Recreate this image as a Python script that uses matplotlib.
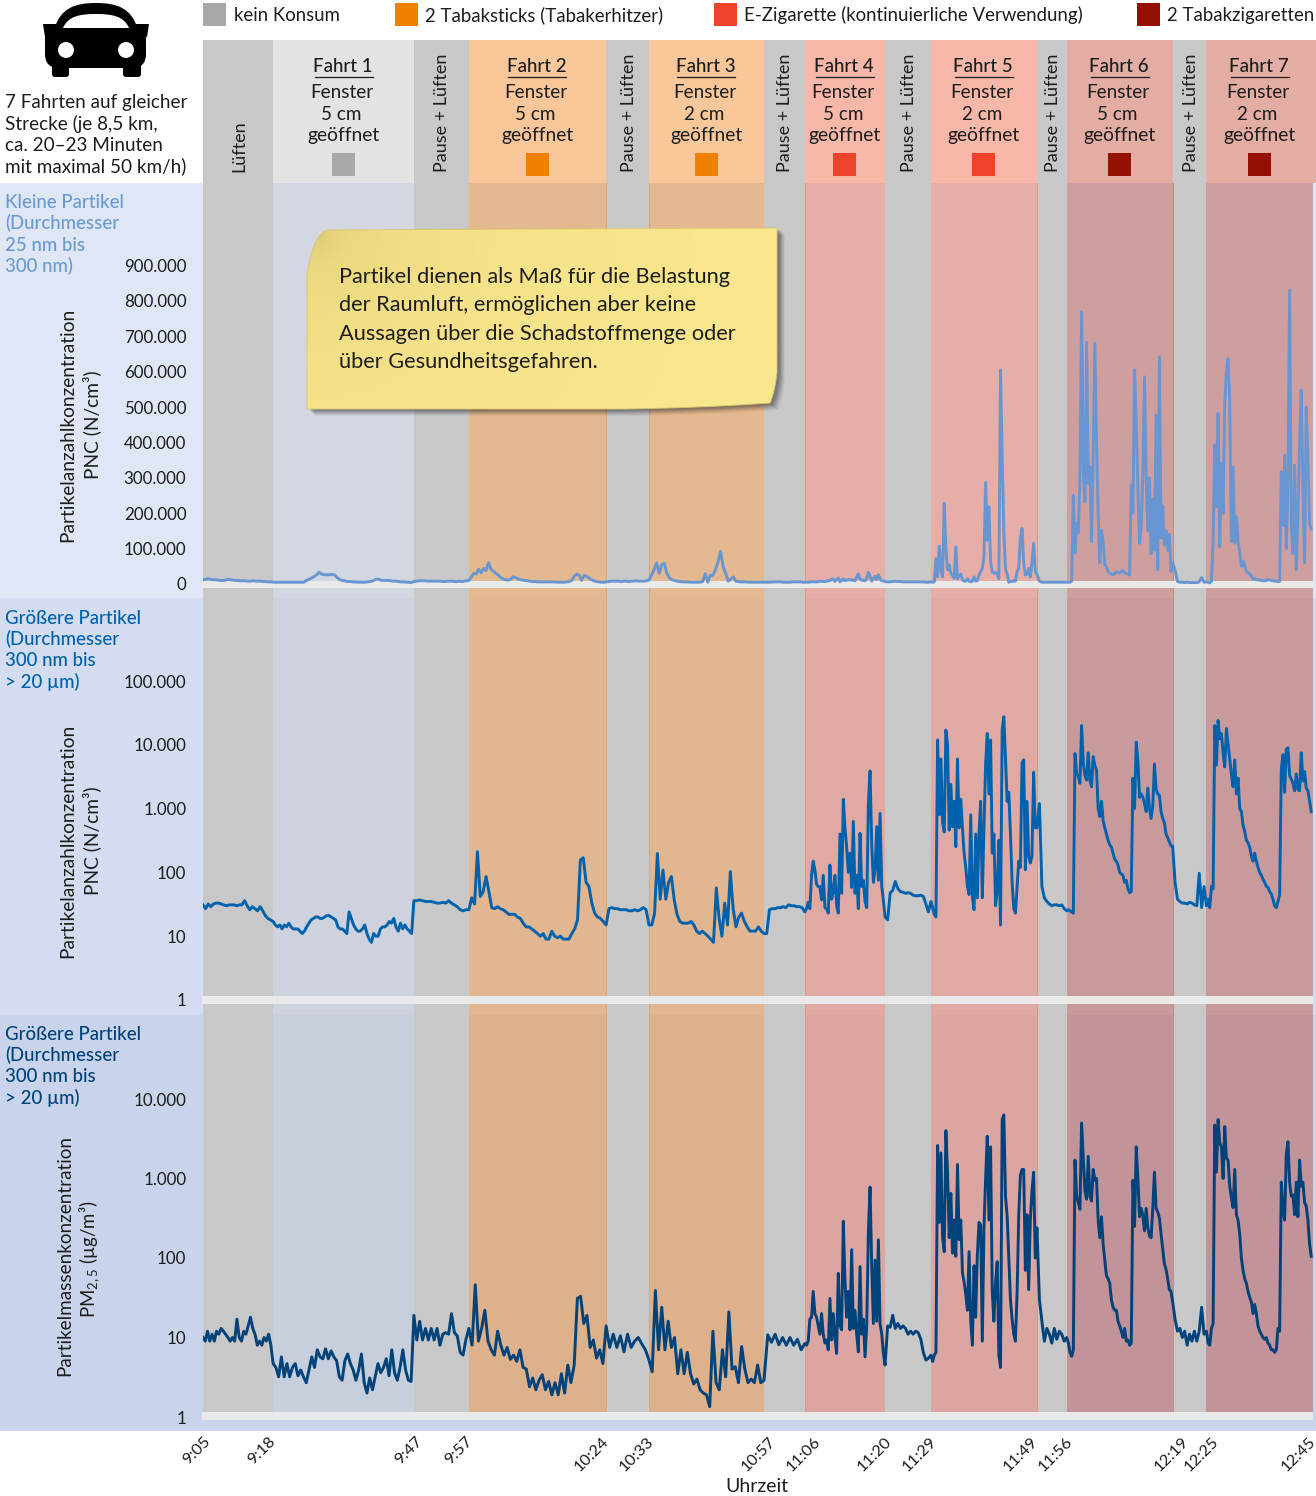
import matplotlib
matplotlib.use('Agg')
import matplotlib.pyplot as plt
import numpy as np
from matplotlib.colors import LinearSegmentedColormap
from matplotlib.patches import Circle, FancyBboxPatch, PathPatch, Polygon, Rectangle
from matplotlib.path import Path

plt.rcParams['font.family'] = ['Lato', 'DejaVu Sans']
plt.rcParams['mathtext.fontset'] = 'custom'
plt.rcParams['mathtext.rm'] = 'Lato'

W, H = 1316, 1496
TXT = '#1d1d1b'

# Phase limits in minutes after 9:05
phase_edges = [0, 13.9, 41.8, 52.7, 79.9, 88.4, 111.2, 119.3, 135.2, 144.3, 165.3, 171.2, 192.2, 198.9, 220]
# Clock labels on the time axis and their minutes after 9:05
clock_labels = ['9:05', '9:18', '9:47', '9:57', '10:24', '10:33', '10:57', '11:06',
                '11:20', '11:29', '11:49', '11:56', '12:19', '12:25', '12:45']
clock_minutes = [0, 13, 42, 52, 79, 88, 112, 121, 135, 144, 164, 171, 194, 200, 220]
phase_kinds = ['air', 'none', 'air', 'tob', 'air', 'tob', 'air', 'ecig', 'air', 'ecig', 'air', 'cig', 'air', 'cig']
trip_names = ['Fahrt 1', 'Fahrt 2', 'Fahrt 3', 'Fahrt 4', 'Fahrt 5', 'Fahrt 6', 'Fahrt 7']
trip_gaps = ['5 cm', '5 cm', '2 cm', '5 cm', '2 cm', '5 cm', '2 cm']

legend_labels = ['kein Konsum', '2 Tabaksticks (Tabakerhitzer)',
                 'E-Zigarette (kontinuierliche Verwendung)', '2 Tabakzigaretten']
legend_x = [203, 395, 714, 1137]
legend_kinds = ['none', 'tob', 'ecig', 'cig']
solid = {'none': '#a8a8a8', 'tob': '#f08000', 'ecig': '#ee432b', 'cig': '#950f03'}
head_bands = {'air': '#c8c8c8', 'none': '#e3e3e3', 'tob': '#f9c799', 'ecig': '#f8b8a9', 'cig': '#e3ada4'}
panel_bands = [
    {'air': '#c8c8c8', 'none': '#d2d7e1', 'tob': '#e5b98f', 'ecig': '#e6aea7', 'cig': '#cf9f9f'},
    {'air': '#c8c8c8', 'none': '#cdd2de', 'tob': '#e1b690', 'ecig': '#e0a9a4', 'cig': '#c89a9c'},
    {'air': '#c8c8c8', 'none': '#c7cedc', 'tob': '#dcb18c', 'ecig': '#dba6a2', 'cig': '#c29398'},
]

# PNC small particles, thousands per cm3, one list per phase
pnc_small = [
    [12, 13, 15, 13, 12, 12, 11, 10, 10, 11, 13, 12, 11, 10, 10, 9, 9, 9, 8, 8, 9, 8, 8, 8, 7, 7, 6, 6],
    [5, 5, 5, 5, 5, 5, 5, 5, 5, 5, 5, 5, 5, 10, 13, 17, 21, 26, 33, 28, 26, 26, 26, 27, 26, 18, 13, 10, 9, 7, 7,
     6, 6, 5, 5, 5, 5, 6, 7, 9, 13, 14, 11, 10, 10, 10, 9, 8, 8, 7, 6, 6, 5, 5, 4],
    [7, 8, 9, 9, 9, 9, 8, 8, 8, 8, 8, 8, 7, 7, 8, 8, 8, 7, 7, 8, 7, 8, 9],
    [10, 20, 30, 28, 42, 32, 44, 38, 60, 42, 36, 30, 25, 18, 14, 12, 11, 13, 20, 18, 15, 12, 11, 10, 9, 8, 7, 7,
     6, 6, 6, 6, 6, 6, 6, 6, 5, 5, 5, 5, 6, 7, 10, 22, 28, 25, 10, 24, 22, 17, 12, 9, 7, 6, 5, 5],
    [6, 7, 8, 8, 8, 8, 7, 8, 8, 7, 8, 8, 9, 8, 8, 8, 9],
    [11, 25, 40, 60, 30, 55, 58, 30, 17, 12, 10, 8, 7, 6, 6, 6, 5, 5, 5, 5, 5, 7, 29, 5, 25, 24, 40, 62, 92, 50,
     30, 8, 14, 20, 8, 7, 6, 6, 6, 5, 5, 5, 5, 5, 5],
    [5, 5, 5, 5, 6, 6, 6, 6, 5, 5, 5, 5, 6, 6, 6, 6, 5],
    [5, 5, 5, 6, 6, 6, 6, 6, 7, 8, 8, 7, 7, 8, 9, 10, 13, 14, 7, 12, 17, 6, 10, 15, 9, 11, 12, 12, 11, 11, 9, 20,
     28, 14, 11, 10, 9, 15, 33, 22, 8, 15, 22, 13, 26, 15, 9, 8],
    [7, 6, 6, 7, 8, 7, 7, 6, 6, 6, 6, 6, 6, 6, 6, 6, 5, 5],
    [6, 5, 6, 72, 20, 107, 40, 20, 228, 100, 40, 54, 30, 25, 16, 105, 15, 22, 28, 12, 8, 8, 15, 8, 6, 8, 20, 8, 10,
     25, 35, 44, 77, 287, 124, 218, 63, 35, 30, 33, 28, 15, 605, 360, 150, 40, 30, 5, 8, 7, 10, 8, 35, 45, 129, 157,
     60, 25, 28, 44, 20, 60, 115, 35],
    [28, 8, 5, 5, 5, 5, 5, 5, 5, 5, 5, 5],
    [5, 5, 5, 8, 251, 87, 171, 145, 300, 769, 322, 232, 683, 284, 331, 120, 360, 680, 400, 200, 60, 152, 120, 55, 48,
     35, 30, 28, 26, 30, 35, 33, 32, 36, 38, 32, 30, 28, 25, 280, 200, 605, 450, 270, 115, 160, 310, 585, 300, 150,
     300, 85, 240, 95, 477, 40, 642, 130, 220, 110, 150, 95, 140, 35],
    [60, 40, 7, 5, 5, 4, 5, 4, 4, 4, 4, 6, 18, 5],
    [6, 5, 3, 8, 120, 393, 218, 482, 105, 341, 200, 510, 600, 637, 515, 120, 330, 115, 190, 120, 90, 50, 65, 50, 35,
     32, 28, 22, 14, 16, 12, 12, 11, 10, 9, 9, 10, 13, 11, 10, 9, 8, 8, 7, 7, 317, 165, 364, 100, 290, 830, 170, 85,
     336, 40, 200, 400, 548, 280, 60, 500, 350, 170, 155],
]

# PNC larger particles, N per cm3, one list per phase
pnc_large = [
    [31, 27, 32, 29, 32, 33, 33, 32, 31, 30, 31, 31, 31, 30, 31, 31, 36, 30, 26, 29, 27, 25, 29, 25, 21, 19, 18],
    [17, 15, 14, 15, 13, 15, 14, 16, 14, 13, 13, 13, 12, 11, 12, 14, 16, 18, 19, 20, 20, 19, 19, 20, 21, 21, 20, 19,
     18, 14, 13, 13, 12, 11, 24, 19, 15, 13, 12, 12, 13, 15, 11, 9, 8, 11, 10, 10, 13, 14, 14, 15, 17, 16, 19, 14, 12,
     16, 13, 15, 13, 12, 11],
    [36, 36, 37, 36, 35, 35, 35, 34, 33, 33, 34, 33, 36, 33, 31, 29, 26, 25, 26],
    [26, 40, 32, 211, 42, 50, 86, 50, 28, 27, 29, 27, 26, 24, 22, 22, 22, 20, 19, 16, 14, 14, 13, 12, 11, 10, 11, 9,
     9, 12, 10, 9.5, 10, 9, 9, 9, 11, 13, 18, 156, 170, 70, 60, 33, 23, 20, 19, 17],
    [15, 27, 28, 27, 27, 26, 26, 26, 25, 25, 26, 25, 26, 28, 26],
    [15, 15, 23, 198, 38, 109, 38, 70, 86, 37, 22, 17, 16, 16, 16, 17, 15, 12, 11, 12, 11, 10, 9, 8, 57, 19, 10, 33,
     15, 103, 27, 14, 20, 23, 17, 14, 12, 12, 12, 14, 12],
    [11, 11, 26, 27, 27, 28, 28, 29, 28, 31, 30, 30, 29, 29, 28],
    [24, 27, 34, 27, 90, 150, 110, 65, 60, 60, 37, 90, 28, 27, 23, 130, 38, 50, 90, 30, 23, 400, 47, 1400, 500, 250,
     100, 200, 58, 630, 47, 90, 27, 410, 60, 75, 35, 28, 1200, 3900, 280, 70, 110, 520, 75, 840, 60, 36],
    [20, 18, 48, 52, 72, 56, 50, 49, 47, 48, 47, 44, 43, 43, 44, 42, 32, 24],
    [35, 28, 22, 20, 11900, 800, 6000, 600, 430, 17000, 10000, 460, 2400, 520, 1300, 253, 6000, 500, 1400, 500, 200,
     120, 60, 45, 800, 42, 26, 400, 40, 400, 1300, 40, 500, 5000, 15000, 1700, 11900, 200, 400, 30, 50, 320, 15,
     17000, 27500, 6000, 1300, 1800, 400, 70, 27, 23, 60, 150, 120, 5200, 5800, 110, 1300, 180, 140, 180, 3700, 500],
    [500, 1200, 60, 40, 35, 32, 30, 31, 31, 30, 31, 27],
    [25, 26, 25, 24, 23, 7300, 3500, 3200, 2500, 20000, 5200, 3300, 2800, 7500, 2800, 2200, 6500, 4700, 4000, 1000,
     750, 1300, 650, 500, 400, 320, 270, 250, 200, 160, 150, 130, 100, 95, 90, 70, 75, 55, 48, 50, 3000, 1000, 11000,
     5600, 1500, 1700, 1500, 1200, 900, 2100, 1000, 700, 1100, 5000, 2000, 1700, 1600, 900, 700, 600, 400, 350, 300,
     260],
    [260, 70, 38, 35, 33, 33, 32, 34, 33, 31, 30, 97, 28, 60],
    [30, 38, 28, 60, 55, 20000, 4800, 24000, 12500, 15000, 7500, 4500, 18000, 10000, 6000, 3400, 2200, 5800, 1700,
     3000, 1000, 900, 550, 440, 320, 290, 250, 180, 150, 200, 150, 120, 100, 90, 78, 70, 60, 58, 50, 46, 38, 30, 28,
     35, 45, 4100, 7000, 1800, 8500, 9000, 3300, 2900, 2500, 1900, 3500, 2000, 1900, 7500, 2700, 3800, 2100, 1900,
     1300, 900],
]

# PM2.5 mass concentration, ug per m3, one list per phase
pm25 = [
    [10, 9, 12, 9, 11, 9, 12, 11, 13, 12, 11, 10, 9, 10, 9, 17, 10, 9, 12, 11, 14, 18, 13, 11, 8, 9, 8, 10, 9, 11, 8],
    [4.7, 4.2, 3.2, 5.7, 3.2, 4.7, 3.2, 4.2, 4.7, 3.3, 3.9, 3.2, 2.7, 3.9, 5.7, 4.2, 7, 5.7, 5.4, 7.2, 5.4, 6.8, 5.7,
     5.1, 3.2, 2.9, 5.1, 6.2, 4.7, 3.9, 2.9, 3.9, 6.2, 2.7, 2, 3.1, 2.2, 3.2, 4.7, 3.6, 4.2, 5.4, 3.3, 7, 3.6, 2.9,
     4.2, 7, 3.9, 2.9, 2.8],
    [19, 9.3, 16, 9.3, 13, 9.3, 13, 9.3, 13, 8, 11, 11.5, 11, 20, 11.5, 10.5, 6.5, 6, 9.5],
    [13, 8, 46, 9, 13, 22, 9, 7, 6, 12, 8, 6, 7.5, 5.3, 6, 5, 7, 4.2, 4, 2.4, 3.1, 2.2, 2.9, 3.4, 2.2, 2.8, 1.9, 2.7,
     1.9, 3.5, 2, 4.5, 2.7, 4.5, 31, 33, 15, 19, 7.5, 9.3, 5.5, 7, 4.7],
    [14, 7.5, 11, 7.5, 10.5, 6.6, 11, 7.5, 9, 10, 8.3, 7],
    [5.2, 3.7, 39, 7, 24, 7, 16, 7.5, 10, 3.5, 7, 3.5, 6.5, 3.5, 2.6, 3, 2.2, 2, 1.9, 1.35, 12, 2.7, 2.2, 7, 3.2, 21,
     4, 4.3, 2.7, 7.7, 4, 2.7, 3, 2.7, 4.5, 2.7],
    [2.9, 10.8, 8.7, 11, 8.1, 10, 8, 10, 8, 9.5, 7],
    [8.4, 8, 9, 17, 18, 38, 20, 18, 14, 11, 20, 11, 8.5, 9.3, 7, 31, 9.3, 20, 10, 6.3, 64, 14, 12.5, 290, 52, 18, 38,
     12.5, 127, 13, 22, 11, 6.6, 78, 11, 17, 5.7, 14, 210, 780, 78, 15, 94, 16, 169, 15, 11, 6.3],
    [4.5, 14, 13.5, 19, 13, 15, 13, 14, 13, 11, 12, 11, 12, 11.5, 9.5, 6.5, 5.2, 5.5],
    [6, 5, 6, 6.5, 2600, 280, 2100, 180, 120, 4000, 1200, 180, 650, 115, 300, 105, 1500, 170, 300, 65, 50, 35, 22, 120,
     16, 8, 80, 18, 110, 280, 260, 9, 240, 1000, 3400, 300, 2500, 38, 16, 50, 90, 6, 4.2, 5500, 6300, 600, 340, 100,
     30, 17, 11, 9, 36, 340, 1100, 1300, 1300, 70, 350, 40, 300, 700, 1200, 100],
    [240, 30, 16, 9, 13, 11, 8.5, 13, 9.5, 12, 11, 9],
    [10, 8.5, 6.5, 5.8, 7, 1700, 600, 500, 410, 5000, 1800, 700, 550, 1900, 600, 520, 1300, 950, 1000, 300, 180, 330,
     150, 95, 60, 55, 48, 30, 24, 22, 22, 16, 14, 12, 10, 13, 9, 9.3, 8, 8.5, 950, 250, 2500, 1000, 330, 420, 340, 220,
     420, 240, 190, 180, 420, 1200, 420, 380, 320, 200, 130, 85, 72, 55, 40, 38],
    [28, 17, 12, 13, 10, 12, 8, 11, 9, 12, 9, 12, 24, 11],
    [12, 8.5, 8, 13, 15, 4700, 1200, 5500, 2800, 2500, 1000, 4500, 1800, 1700, 800, 570, 430, 1300, 350, 300, 200, 100,
     70, 55, 48, 38, 32, 28, 20, 26, 20, 14, 12, 11, 10, 9.5, 10, 8.5, 8, 7, 7, 6.5, 7, 13, 12, 900, 400, 300, 2000,
     2900, 900, 600, 620, 350, 900, 330, 1700, 800, 900, 500, 450, 300, 150, 105],
]

pnc_small_ticks = [0, 100000, 200000, 300000, 400000, 500000, 600000, 700000, 800000, 900000]
pnc_small_labels = ['0', '100.000', '200.000', '300.000', '400.000', '500.000', '600.000', '700.000', '800.000', '900.000']
pnc_large_ticks = [1, 10, 100, 1000, 10000, 100000]
pnc_large_labels = ['1', '10', '100', '1.000', '10.000', '100.000']
pm25_ticks = [1, 10, 100, 1000, 10000]
pm25_labels = ['1', '10', '100', '1.000', '10.000']

head_text = ['Kleine Partikel\n(Durchmesser\n25 nm bis\n300 nm)',
             'Größere Partikel\n(Durchmesser\n300 nm bis\n> 20 µm)',
             'Größere Partikel\n(Durchmesser\n300 nm bis\n> 20 µm)']
head_colors = ['#6a9ad4', '#0062ad', '#00427a']
line_colors = ['#6896d2', '#0062ad', '#00427a']
panel_bg = ['#dfe6f5', '#d3dcf0', '#c9d4ec']


def fig_axes(top, bottom, left=0, right=W, **kw):
    return fig.add_axes([left / W, 1 - bottom / H, (right - left) / W, (bottom - top) / H], **kw)


def phase_line(phases):
    t, v = [], []
    for i, vals in enumerate(phases):
        t.extend(np.linspace(phase_edges[i], phase_edges[i + 1], len(vals), endpoint=False))
        v.extend(vals)
    return np.array(t), np.array(v)


fig = plt.figure(figsize=(W / 100, H / 100), dpi=100, facecolor='white')

# page background
bg = fig_axes(0, H, zorder=0)
bg.set_xlim(0, W)
bg.set_ylim(H, 0)
bg.axis('off')
bg.add_patch(Rectangle((0, 183), W, 415, color=panel_bg[0], lw=0))
bg.add_patch(Rectangle((0, 598), W, 417, color=panel_bg[1], lw=0))
bg.add_patch(Rectangle((0, 1015), W, 416, color=panel_bg[2], lw=0))

# x scale: 5.045 px per minute, 9:05 at px 203
xlim = (0, (W - 203) / 5.045)

# header strip
hd = fig_axes(40, 183, 203, W, zorder=1)
hd.set_xlim(*xlim)
hd.set_ylim(0, 1)
hd.axis('off')
for i, k in enumerate(phase_kinds):
    x1 = phase_edges[i + 1] if i < len(phase_kinds) - 1 else xlim[1]
    hd.axvspan(phase_edges[i], x1, color=head_bands[k], lw=0)

# three data panels
ax1 = fig_axes(183, 598, 203, W, zorder=2)
ax1.set_ylim((584 - 598) / 0.000354, (584 - 183) / 0.000354)
ax2 = fig_axes(598, 1015, 203, W, zorder=2)
ax2.set_yscale('log')
ax2.set_ylim(10 ** ((1000 - 1015) / 63.8), 10 ** ((1000 - 598) / 63.8))
ax3 = fig_axes(1015, 1431, 203, W, zorder=2)
ax3.set_yscale('log')
ax3.set_ylim(10 ** ((1417 - 1431) / 79.5), 10 ** ((1417 - 1015) / 79.5))
axes = [ax1, ax2, ax3]

ticks = [pnc_small_ticks, pnc_large_ticks, pm25_ticks]
labels = [pnc_small_labels, pnc_large_labels, pm25_labels]
strips = [(581, 588), (996, 1004), (1412, 1420)]
tops = [183, 598, 1015]
bottoms = [598, 1015, 1431]

for n, ax in enumerate(axes):
    ax.patch.set_alpha(0)
    for s in ax.spines.values():
        s.set_visible(False)
    band_floor = 0
    if n == 2:
        band_floor = (1431 - 1412) / 416
    for i, k in enumerate(phase_kinds):
        ax.axvspan(phase_edges[i], phase_edges[i + 1], ymin=band_floor, color=panel_bands[n][k], lw=0, zorder=1)
    # thin darker seams at some band sides
    for e, c in [(79.9, '#dca777'), (88.4, '#dca777'), (119.3, '#e0987f'), (165.3, '#da9a88'), (192.2, '#c58a80')]:
        ax.axvline(e, ymin=band_floor, color=c, lw=0.7, zorder=1.5)
    # light strip at the foot of each panel
    frac0 = (bottoms[n] - strips[n][1]) / (bottoms[n] - tops[n])
    frac1 = (bottoms[n] - strips[n][0]) / (bottoms[n] - tops[n])
    ax.add_patch(Rectangle((-1.5 / 1113, frac0), 1111.5 / 1113, frac1 - frac0, transform=ax.transAxes,
                           color='#e9e9e9', lw=0, zorder=2, clip_on=False))
    ax.set_yticks(ticks[n])
    ax.set_yticklabels(labels[n], fontsize=12.2, color=TXT)
    ax.minorticks_off()
    ax.tick_params(axis='y', length=0, pad=12)
    ax.set_xticks([])

t, v = phase_line(pnc_small)
ax1.plot(t, v * 1000, color=line_colors[0], lw=2.1, zorder=3, solid_joinstyle='round')
t, v = phase_line(pnc_large)
ax2.plot(t, v, color=line_colors[1], lw=2.1, zorder=3, solid_joinstyle='round')
t, v = phase_line(pm25)
ax3.plot(t, v, color=line_colors[2], lw=2.1, zorder=3, solid_joinstyle='round')

# labels sit a little right of their time, the last one stays inside the page
ax3.set_xticks(np.minimum(np.array(clock_minutes) + 1.0, 220.2))
ax3.set_xticklabels(clock_labels, rotation=45, ha='right', va='center', rotation_mode='anchor', fontsize=11.8, color=TXT)
ax3.tick_params(axis='x', length=0, pad=6)
ax3.set_xlabel('Uhrzeit', fontsize=14, color=TXT)
ax3.xaxis.set_label_coords((757 - 203) / 1113, -(1486 - 1431) / 416, transform=ax3.transAxes)
ax3.xaxis.label.set_va('center')
for ax in axes:
    ax.set_xlim(*xlim)

# overlay in pixel coordinates for texts and decoration
ov = fig_axes(0, H, zorder=5)
ov.set_xlim(0, W)
ov.set_ylim(H, 0)
ov.axis('off')
ov.patch.set_alpha(0)


def px(minute):
    return 203 + minute * 5.045


def label(x, y, s, size=13.6, color=TXT, ha='left', va='center', **kw):
    ov.text(x, y, s, fontsize=size, color=color, ha=ha, va=va, **kw)


# legend
for x, name, k in zip(legend_x, legend_labels, legend_kinds):
    ov.add_patch(Rectangle((x, 3), 23, 23, color=solid[k], lw=0))
    label(x + 31 if k == 'none' else x + 30, 15, name, size=13.4)

# phase headers
trip = 0
for i, k in enumerate(phase_kinds):
    cx = (px(phase_edges[i]) + px(phase_edges[i + 1])) / 2
    if k == 'air':
        name = 'Lüften' if i == 0 else 'Pause + Lüften'
        label(cx + 1, 172, name, size=13, rotation=90, ha='center', va='bottom')
    else:
        label(cx - 1, 66, trip_names[trip], size=13.5, ha='center', weight='medium')
        ov.plot([cx - 29, cx + 29], [76.5, 76.5], color=TXT, lw=0.9)
        label(cx - 2, 92, 'Fenster', ha='center')
        label(cx - 2, 114, trip_gaps[trip], ha='center')
        label(cx, 135, 'geöffnet', size=13.9, ha='center')
        ov.add_patch(Rectangle((cx - 11.5, 153), 23, 23, color=solid[k], lw=0))
        trip += 1

# left column
for y, s in zip([102, 124, 145, 166], ['7 Fahrten auf gleicher', 'Strecke (je 8,5 km,', 'ca. 20–23 Minuten',
                                       'mit maximal 50 km/h)']):
    label(5, y, s, size=13.6)
for n, ys in enumerate([(202, 223, 245, 266), (618, 639, 660, 682), (1034, 1055, 1076, 1098)]):
    for y, s in zip(ys, head_text[n].split('\n')):
        label(5, y, s, size=13.4, color=head_colors[n], weight='medium')

label(68, 425, 'Partikelanzahlkonzentration', size=13.8, rotation=90, ha='center')
label(92, 425, 'PNC (N/cm³)', size=13.8, rotation=90, ha='center')
label(68, 841, 'Partikelanzahlkonzentration', size=13.8, rotation=90, ha='center')
label(92, 841, 'PNC (N/cm³)', size=13.8, rotation=90, ha='center')
label(65, 1256, 'Partikelmassenkonzentration', size=13.6, rotation=90, ha='center')
label(90, 1259, r'PM$_{\mathregular{2,5}}$ (µg/m³)', size=13.4, rotation=90, ha='center')

# car icon
ov.add_patch(PathPatch(Path(
    [(54, 30), (60, 8), (75, 3), (96, 3), (117, 3), (132, 8), (138, 30), (54, 30)],
    [Path.MOVETO, Path.CURVE4, Path.CURVE4, Path.CURVE4, Path.CURVE4, Path.CURVE4, Path.CURVE4, Path.CLOSEPOLY]),
    color='black', lw=0))
ov.add_patch(Polygon([(43, 24), (149, 24), (147, 37), (45, 37)], color='black', lw=0))
ov.add_patch(FancyBboxPatch((53, 33), 85, 27, boxstyle='round,pad=8,rounding_size=14', color='black', lw=0))
ov.add_patch(FancyBboxPatch((52, 62), 17, 15, boxstyle='round,pad=0,rounding_size=3', color='black', lw=0))
ov.add_patch(FancyBboxPatch((123, 62), 18, 15, boxstyle='round,pad=0,rounding_size=3', color='black', lw=0))
ov.add_patch(PathPatch(Path(
    [(63, 28), (68, 16), (80, 14), (96, 14), (112, 14), (124, 16), (129, 28), (63, 28)],
    [Path.MOVETO, Path.CURVE4, Path.CURVE4, Path.CURVE4, Path.CURVE4, Path.CURVE4, Path.CURVE4, Path.CLOSEPOLY]),
    color='white', lw=0))
ov.add_patch(Circle((66, 50), 8, color='white', lw=0))
ov.add_patch(Circle((126, 50), 8, color='white', lw=0))

# yellow note with soft shadow and gradient fill
note_verts = [(326, 230), (777, 228), (777, 372), (775, 392), (770, 403), (700, 408), (623, 409), (307, 409),
              (307, 275), (312, 238), (326, 230)]
note_codes = [Path.MOVETO, Path.LINETO, Path.LINETO, Path.CURVE3, Path.CURVE3, Path.CURVE3, Path.CURVE3, Path.LINETO,
              Path.LINETO, Path.CURVE3, Path.CURVE3]
note_path = Path(note_verts, note_codes)
for off, alpha in [(8, 0.05), (7, 0.07), (6, 0.09), (5, 0.11), (4, 0.13), (3, 0.15)]:
    ov.add_patch(PathPatch(Path([(x + off, y + off - 1) for x, y in note_verts], note_codes),
                           color='#2a2a2a', alpha=alpha, lw=0))
xx, yy = np.meshgrid(np.linspace(300, 780, 240), np.linspace(225, 412, 100))
shade = np.clip(np.hypot(xx - 307, (yy - 230) * 1.1) / 470, 0, 1) ** 0.45
note_cmap = LinearSegmentedColormap.from_list('note', ['#cdbc6f', '#ebd87f', '#f6e389', '#f9e78d'])
im = ov.imshow(shade, extent=(300, 780, 412, 225), cmap=note_cmap, vmin=0, vmax=1, aspect='auto', zorder=3)
patch = PathPatch(note_path, facecolor='none', edgecolor='#d8c66f', lw=0.6, zorder=3.1)
ov.add_patch(patch)
im.set_clip_path(patch)
ov.set_xlim(0, W)
ov.set_ylim(H, 0)
for y, s in zip([276.5, 304.5, 333.5, 361.5], ['Partikel dienen als Maß für die Belastung', 'der Raumluft, ermöglichen aber keine',
                                               'Aussagen über die Schadstoffmenge oder', 'über Gesundheitsgefahren.']):
    ov.text(339, y, s, fontsize=15.7, color=TXT, va='center', zorder=4)

fig.savefig('out.png', dpi=100)
